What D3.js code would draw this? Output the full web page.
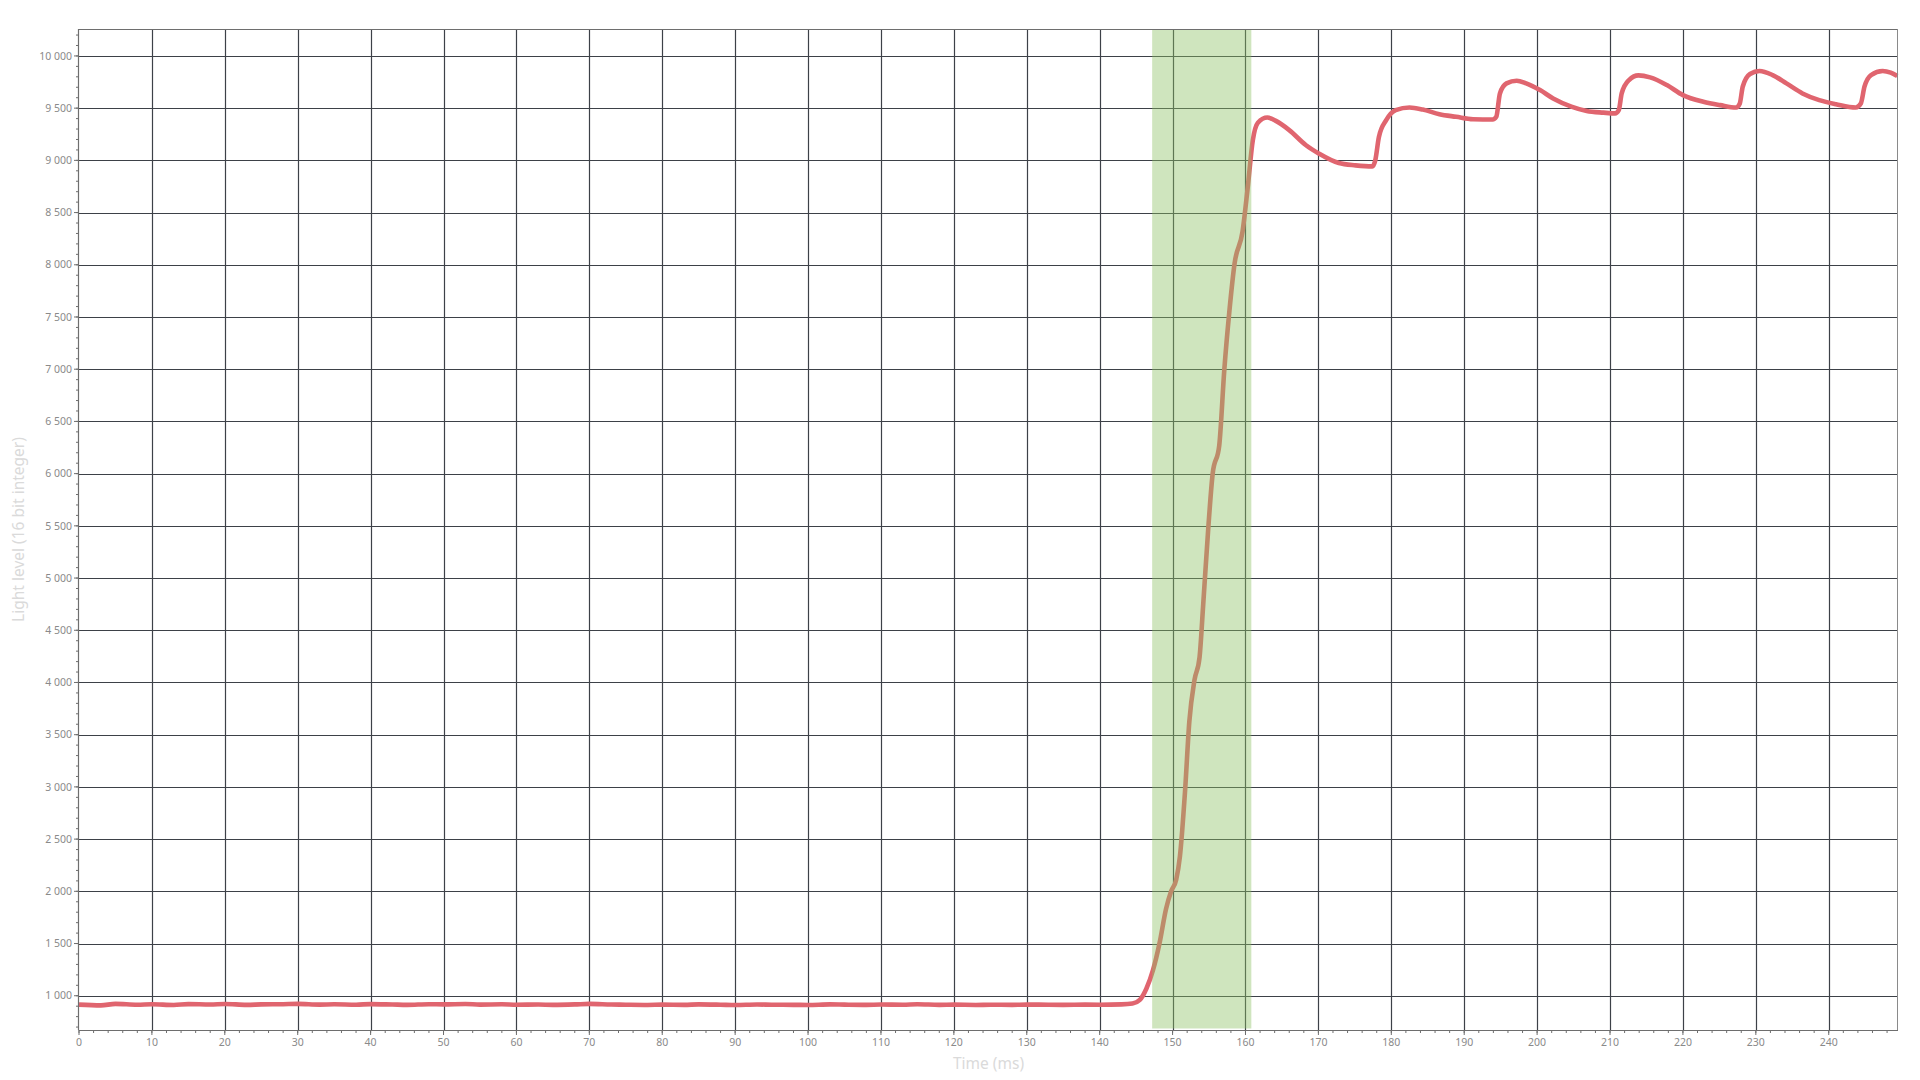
<!DOCTYPE html>
<html>
<head>
<meta charset="utf-8">
<script src="https://cdn.jsdelivr.net/npm/d3@7/dist/d3.min.js"></script>
<style>
  html, body { margin: 0; padding: 0; background: #fff; }
  svg { display: block; font-family: "Segoe UI", "Noto Sans", "Open Sans", sans-serif; }
  .tick-label { fill: #8a8a8a; font-size: 10.5px; }
  .axis-title { fill: #dadada; font-size: 15.5px; }
</style>
</head>
<body>
<div id="chart"></div>
<script>
// light sensor trace
const timeMs = [
  0, 3, 5, 8, 10, 13, 15, 18, 20, 23, 25, 28, 30, 33, 35, 38, 40, 43, 45, 48,
  50, 53, 55, 58, 60, 63, 65, 68, 70, 73, 75, 78, 80, 83, 85, 88, 90, 93, 95, 98,
  100, 103, 105, 108, 110, 113, 115, 118, 120, 123, 125, 128, 130, 133, 135, 138, 140, 143,
  144.5, 145.5, 146.4, 147.3, 148.2, 149.1, 149.8, 150.5, 151.0, 151.7, 152.3, 153.0, 153.7,
  154.2, 154.9, 155.5, 156.4, 157.1, 157.8, 158.5, 159.6, 160.3, 161.0, 161.7, 163.0,
  164.1, 166.0, 168.3, 170.1, 172.8, 175.1, 177.4, 177.8, 178.3, 179.3, 180.6, 182.5,
  184.3, 186.6, 188.9, 191.2, 193.9, 194.4, 194.9, 195.8, 197.2, 198.5, 200.4, 202.2,
  204.7, 206.8, 209.1, 210.7, 211.2, 211.6, 212.6, 213.9, 215.5, 217.8, 220.0, 222.8,
  225.1, 227.3, 227.8, 228.2, 229.2, 230.5, 232.3, 234.2, 236.4, 238.7, 241.0, 243.7,
  244.4, 244.9, 245.8, 247.4, 248.5, 249.4
];
const lightLevel = [
  915, 908, 922, 914, 918, 912, 920, 916, 921, 913, 917, 919, 922, 915, 918, 914, 920, 916, 913, 919,
  917, 921, 915, 918, 914, 916, 913, 917, 922, 916, 914, 912, 915, 913, 917, 914, 911, 916, 914, 913,
  912, 917, 915, 913, 916, 914, 918, 913, 915, 912, 914, 913, 915, 914, 913, 915, 914, 917,
  925, 960, 1067, 1242, 1500, 1831, 2000, 2112, 2331, 2950, 3629, 4022, 4242,
  4747, 5483, 6000, 6270, 7000, 7562, 8011, 8320, 8736, 9191, 9360, 9410,
  9380, 9290, 9145, 9064, 8974, 8952, 8942, 9000, 9224, 9385, 9481, 9506,
  9487, 9442, 9417, 9394, 9391, 9417, 9641, 9737, 9763, 9737, 9673, 9593,
  9515, 9473, 9457, 9450, 9481, 9641, 9769, 9814, 9795, 9721, 9625, 9561,
  9529, 9506, 9545, 9705, 9827, 9856, 9817, 9737, 9641, 9577, 9538, 9506,
  9545, 9705, 9817, 9856, 9840, 9808
];
// highlighted interval (ms)
const bandStart = 147.2;
const bandEnd = 160.8;

const xMajorTicks = d3.range(0, 250, 10);
const xMinorTicks = d3.range(0, 250, 2);
const yMajorTicks = d3.range(1000, 10001, 500);
const yMinorTicks = d3.range(700, 10201, 100);

const xDomain = [0, 249.5];
const yDomain = [672, 10258];

(function() {
  const W = 1920, H = 1080;
  const margin = {top: 29, right: 22, bottom: 50, left: 79};
  const width = W - margin.left - margin.right,
        height = H - margin.top - margin.bottom;

  const fmt = d3.formatLocale({decimal: ".", thousands: " ", grouping: [3], currency: ["", ""]}).format(",d");

  const x = d3.scaleLinear().domain(xDomain).range([0, width]);
  const y = d3.scaleLinear().domain(yDomain).range([height, 0]);

  const svg = d3.select("#chart").append("svg")
      .attr("width", W)
      .attr("height", H)
    .append("g")
      .attr("transform", "translate(" + margin.left + "," + margin.top + ")");

  // grid
  svg.append("g").selectAll("line")
    .data(xMajorTicks.filter(d => d > 0))
    .enter().append("line")
      .attr("x1", d => Math.round(x(d)) + 0.5).attr("x2", d => Math.round(x(d)) + 0.5)
      .attr("y1", 0).attr("y2", height)
      .attr("stroke", "#3d4148").attr("stroke-width", 1.2);
  svg.append("g").selectAll("line")
    .data(yMajorTicks)
    .enter().append("line")
      .attr("x1", 0).attr("x2", width)
      .attr("y1", d => Math.round(y(d)) + 0.5).attr("y2", d => Math.round(y(d)) + 0.5)
      .attr("stroke", "#3d4148").attr("stroke-width", 1.2);

  // trace
  const line = d3.line()
    .x((d, i) => x(timeMs[i]))
    .y(d => y(d))
    .curve(d3.curveMonotoneX);

  svg.append("path")
    .datum(lightLevel)
    .attr("fill", "none")
    .attr("stroke", "#e0656f")
    .attr("stroke-width", 4.6)
    .attr("stroke-linejoin", "round")
    .attr("d", line);

  // band on top, semi transparent
  svg.append("rect")
    .attr("x", x(bandStart))
    .attr("width", x(bandEnd) - x(bandStart))
    .attr("y", 0)
    .attr("height", height - 1.5)
    .attr("fill", "rgb(140,192,100)")
    .attr("fill-opacity", 0.42);

  // frame top / right
  svg.append("line").attr("x1", 0).attr("x2", width).attr("y1", 0.5).attr("y2", 0.5)
    .attr("stroke", "#6e6e6e");
  svg.append("line").attr("x1", width - 0.5).attr("x2", width - 0.5).attr("y1", 0).attr("y2", height)
    .attr("stroke", "#8a8a8a");

  // x axis
  const xAxis = svg.append("g").attr("transform", "translate(0," + height + ")");
  xAxis.append("line").attr("x1", 0).attr("x2", width).attr("y1", 0.5).attr("y2", 0.5)
    .attr("stroke", "#6e6e6e").attr("stroke-width", 1.2);
  xAxis.selectAll(".minor").data(xMinorTicks).enter().append("line")
    .attr("x1", d => x(d)).attr("x2", d => x(d)).attr("y1", 0).attr("y2", 3)
    .attr("stroke", "#6e6e6e");
  xAxis.selectAll(".major").data(xMajorTicks).enter().append("line")
    .attr("x1", d => x(d)).attr("x2", d => x(d)).attr("y1", 0).attr("y2", 5)
    .attr("stroke", "#6e6e6e");
  xAxis.selectAll("text").data(xMajorTicks).enter().append("text")
    .attr("class", "tick-label")
    .attr("x", d => x(d)).attr("y", 16)
    .attr("text-anchor", "middle")
    .text(d => d);

  // y axis
  const yAxis = svg.append("g");
  yAxis.append("line").attr("x1", -0.5).attr("x2", -0.5).attr("y1", 0).attr("y2", height)
    .attr("stroke", "#6e6e6e").attr("stroke-width", 1.2);
  yAxis.selectAll(".minor").data(yMinorTicks).enter().append("line")
    .attr("x1", -3).attr("x2", 0).attr("y1", d => y(d)).attr("y2", d => y(d))
    .attr("stroke", "#6e6e6e");
  yAxis.selectAll(".major").data(yMajorTicks).enter().append("line")
    .attr("x1", -5).attr("x2", 0).attr("y1", d => y(d)).attr("y2", d => y(d))
    .attr("stroke", "#6e6e6e");
  yAxis.selectAll("text").data(yMajorTicks).enter().append("text")
    .attr("class", "tick-label")
    .attr("x", -7).attr("y", d => y(d))
    .attr("dy", "0.35em")
    .attr("text-anchor", "end")
    .text(d => fmt(d));

  // titles
  svg.append("text")
    .attr("class", "axis-title")
    .attr("x", width / 2).attr("y", height + 39)
    .attr("text-anchor", "middle")
    .text("Time (ms)");
  svg.append("text")
    .attr("class", "axis-title")
    .attr("transform", "rotate(-90)")
    .attr("x", -height / 2).attr("y", -margin.left + 24)
    .attr("text-anchor", "middle")
    .text("Light level (16 bit integer)");
})();
</script>
</body>
</html>
